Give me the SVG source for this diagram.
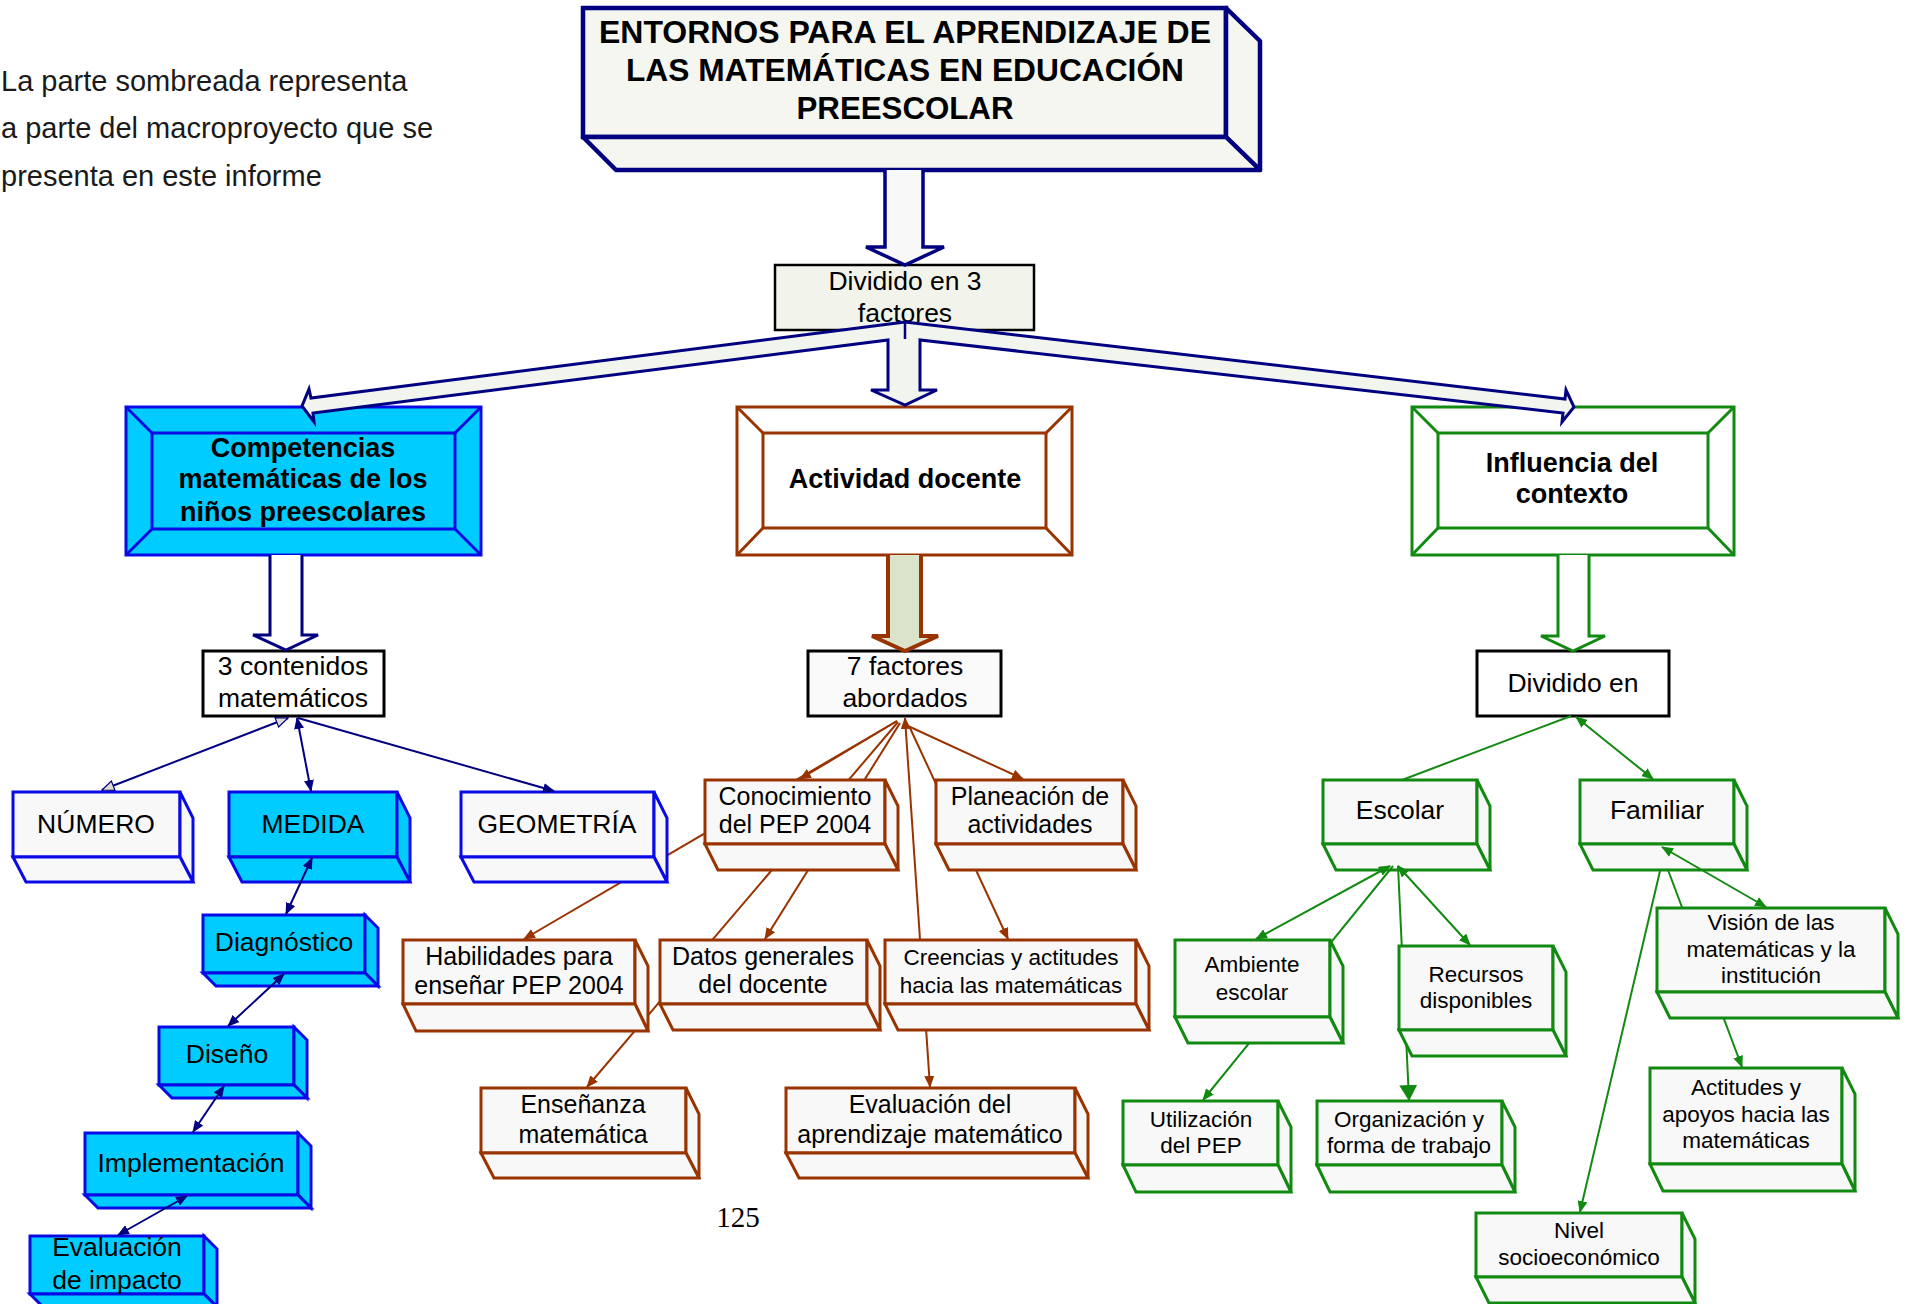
<svg xmlns="http://www.w3.org/2000/svg" width="1909" height="1304" viewBox="0 0 1909 1304">
<style>
text{font-family:"Liberation Sans",Arial,sans-serif;fill:#000;text-anchor:middle}
.leg{font-size:29px;fill:#1a1a1a;text-anchor:start}
.tt{font-size:31.5px;font-weight:bold}
.bb{font-size:27px;font-weight:bold}
.t27{font-size:26.5px}
.t25{font-size:25px}
.t22{font-size:22.5px}
.pg{font-family:"Liberation Serif","Times New Roman",serif;font-size:29px}
.fb{fill:#f8f8f8;stroke:#0a0ae6;stroke-width:3;stroke-linejoin:miter}
.fc{fill:#00ccff;stroke:#0a0ae6;stroke-width:3}
.fr{fill:#f8f8f8;stroke:#993300;stroke-width:3}
.fg{fill:#f8f8f8;stroke:#128a12;stroke-width:3}
.ln{stroke:#000080;stroke-width:2;fill:none}
.lr{stroke:#993300;stroke-width:2;fill:none}
.lg{stroke:#128a12;stroke-width:2;fill:none}
</style>
<defs>
<marker id="mn" viewBox="0 0 12 10" refX="11" refY="5" markerWidth="12" markerHeight="10" markerUnits="userSpaceOnUse" orient="auto-start-reverse"><path d="M0,0 L12,5 L0,10 z" fill="#000080"/></marker>
<marker id="mh" viewBox="0 0 14 12" refX="13" refY="6" markerWidth="14" markerHeight="12" markerUnits="userSpaceOnUse" orient="auto-start-reverse"><path d="M1,1 L13,6 L1,11 z" fill="#dcdcd0" stroke="#000080" stroke-width="1.2"/></marker>
<marker id="mr" viewBox="0 0 12 10" refX="11" refY="5" markerWidth="12" markerHeight="10" markerUnits="userSpaceOnUse" orient="auto-start-reverse"><path d="M0,0 L12,5 L0,10 z" fill="#993300"/></marker>
<marker id="mg" viewBox="0 0 12 10" refX="11" refY="5" markerWidth="12" markerHeight="10" markerUnits="userSpaceOnUse" orient="auto-start-reverse"><path d="M0,0 L12,5 L0,10 z" fill="#128a12"/></marker>
<marker id="mgL" viewBox="0 0 16 18" refX="15" refY="9" markerWidth="16" markerHeight="18" markerUnits="userSpaceOnUse" orient="auto-start-reverse"><path d="M0,0 L16,9 L0,18 z" fill="#128a12"/></marker>
</defs>
<rect width="1909" height="1304" fill="#fff"/>

<g id="legend">
<text class="leg" x="1" y="91">La parte sombreada representa</text>
<text class="leg" x="1" y="138">a parte del macroproyecto que se</text>
<text class="leg" x="1" y="186">presenta en este informe</text>
</g>
<text class="pg" x="738" y="1227">125</text>

<g id="n-escolar">
<rect class="fg" x="1323" y="780" width="154" height="64"/>
<path class="fg" d="M1477,780 L1490,806 L1490,870 L1477,844 Z"/>
<path class="fg" d="M1323,844 L1336,870 L1490,870 L1477,844 Z"/>
<text class="t27" x="1400" y="819">Escolar</text>
</g>
<g id="n-familiar">
<rect class="fg" x="1580" y="780" width="154" height="64"/>
<path class="fg" d="M1734,780 L1747,806 L1747,870 L1734,844 Z"/>
<path class="fg" d="M1580,844 L1593,870 L1747,870 L1734,844 Z"/>
<text class="t27" x="1657" y="819">Familiar</text>
</g>
<g id="n-3contenidos">
<rect x="203" y="651" width="181" height="65" fill="#fff" stroke="#000" stroke-width="3"/>
<text class="t27" x="293" y="675">3 contenidos</text>
<text class="t27" x="293" y="707">matemáticos</text>
</g>
<g id="n-7factores">
<rect x="808" y="651" width="193" height="65" fill="#fafafa" stroke="#000" stroke-width="3"/>
<text class="t27" x="905" y="675">7 factores</text>
<text class="t27" x="905" y="707">abordados</text>
</g>
<g id="n-dividido-en">
<rect x="1477" y="651" width="192" height="65" fill="#fff" stroke="#000" stroke-width="3"/>
<text class="t27" x="1573" y="692">Dividido en</text>
</g>

<g id="connectors">
<line class="lr" x1="897" y1="721" x2="800" y2="779" marker-end="url(#mr)"/>
<line class="lr" x1="897" y1="721" x2="524" y2="939" marker-end="url(#mr)"/>
<line class="lr" x1="898" y1="722" x2="587" y2="1087" marker-end="url(#mr)"/>
<line class="lr" x1="900" y1="723" x2="765" y2="939" marker-end="url(#mr)"/>
<line class="lr" x1="905" y1="718" x2="930" y2="1087" marker-start="url(#mr)" marker-end="url(#mr)"/>
<line class="lr" x1="908" y1="726" x2="1023" y2="779" marker-end="url(#mr)"/>
<line class="lr" x1="910" y1="728" x2="1008" y2="939" marker-end="url(#mr)"/>

<line class="lg" x1="1571" y1="716" x2="1402" y2="780"/>
<line class="lg" x1="1576" y1="717" x2="1653" y2="779" marker-start="url(#mg)" marker-end="url(#mg)"/>
<line class="lg" x1="1390" y1="866" x2="1256" y2="939" marker-start="url(#mg)" marker-end="url(#mg)"/>
<line class="lg" x1="1393" y1="866" x2="1203" y2="1100" marker-end="url(#mg)"/>
<line class="lg" x1="1398" y1="866" x2="1409" y2="1100" marker-end="url(#mgL)"/>
<line class="lg" x1="1398" y1="866" x2="1470" y2="945" marker-start="url(#mg)" marker-end="url(#mg)"/>
<line class="lg" x1="1662" y1="847" x2="1766" y2="907" marker-start="url(#mg)" marker-end="url(#mg)"/>
<line class="lg" x1="1668" y1="870" x2="1742" y2="1067" marker-end="url(#mg)"/>
<line class="lg" x1="1660" y1="871" x2="1580" y2="1212" marker-end="url(#mg)"/>
</g>

<g id="n-title">
<rect x="583" y="8" width="643" height="129" fill="#f6f6f1" stroke="#000080" stroke-width="4.5"/>
<path d="M1226,8 L1260,41 L1260,170 L1226,137 Z" fill="#f6f6f1" stroke="#000080" stroke-width="4.5" stroke-linejoin="round"/>
<path d="M583,137 L616,170 L1260,170 L1226,137 Z" fill="#f6f6f1" stroke="#000080" stroke-width="4.5" stroke-linejoin="round"/>
<text class="tt" x="905" y="43" textLength="612" lengthAdjust="spacingAndGlyphs">ENTORNOS PARA EL APRENDIZAJE DE</text>
<text class="tt" x="905" y="81" textLength="558" lengthAdjust="spacingAndGlyphs">LAS MATEMÁTICAS EN EDUCACIÓN</text>
<text class="tt" x="905" y="119" textLength="217" lengthAdjust="spacingAndGlyphs">PREESCOLAR</text>
</g>

<g id="n-dividido3">
<rect x="775" y="265" width="259" height="65" fill="#f2f4ec" stroke="#000" stroke-width="2.5"/>
<text class="t27" x="905" y="290">Dividido en 3</text>
<text class="t27" x="905" y="322">factores</text>
</g>

<g id="n-competencias">
<rect x="126" y="407" width="355" height="148" fill="#00ccff" stroke="#0a0ae6" stroke-width="3"/>
<rect x="152" y="433" width="303" height="96" fill="#00ccff" stroke="#0a0ae6" stroke-width="3"/>
<path d="M126,407 L152,433 M481,407 L455,433 M126,555 L152,529 M481,555 L455,529" stroke="#0a0ae6" stroke-width="3"/>
<text class="bb" x="303" y="457">Competencias</text>
<text class="bb" x="303" y="488">matemáticas de los</text>
<text class="bb" x="303" y="521">niños preescolares</text>
</g>
<g id="n-actividad">
<rect x="737" y="407" width="335" height="148" fill="#fff" stroke="#993300" stroke-width="3"/>
<rect x="763" y="433" width="283" height="95" fill="#fff" stroke="#993300" stroke-width="3"/>
<path d="M737,407 L763,433 M1072,407 L1046,433 M737,555 L763,528 M1072,555 L1046,528" stroke="#993300" stroke-width="3"/>
<text class="bb" x="905" y="488">Actividad docente</text>
</g>
<g id="n-influencia">
<rect x="1412" y="407" width="322" height="148" fill="#fff" stroke="#128a12" stroke-width="3"/>
<rect x="1438" y="433" width="270" height="95" fill="#fff" stroke="#128a12" stroke-width="3"/>
<path d="M1412,407 L1438,433 M1734,407 L1708,433 M1412,555 L1438,528 M1734,555 L1708,528" stroke="#128a12" stroke-width="3"/>
<text class="bb" x="1572" y="472">Influencia del</text>
<text class="bb" x="1572" y="503">contexto</text>
</g>

<g id="n-numero">
<rect class="fb" x="13" y="792" width="167" height="65"/>
<path class="fb" d="M180,792 L193,818 L193,882 L180,857 Z"/>
<path class="fb" d="M13,857 L26,882 L193,882 L180,857 Z"/>
<text class="t27" x="96" y="833">NÚMERO</text>
</g>
<g id="n-medida">
<rect class="fc" x="229" y="792" width="168" height="65"/>
<path class="fc" d="M397,792 L410,818 L410,882 L397,857 Z"/>
<path class="fc" d="M229,857 L242,882 L410,882 L397,857 Z"/>
<text class="t27" x="313" y="833">MEDIDA</text>
</g>
<g id="n-geometria">
<rect class="fb" x="461" y="792" width="193" height="65"/>
<path class="fb" d="M654,792 L667,818 L667,882 L654,857 Z"/>
<path class="fb" d="M461,857 L474,882 L667,882 L654,857 Z"/>
<text class="t27" x="557" y="833">GEOMETRÍA</text>
</g>
<g id="n-diagnostico">
<rect class="fc" x="203" y="915" width="162" height="58"/>
<path class="fc" d="M365,915 L378,928 L378,986 L365,973 Z"/>
<path class="fc" d="M203,973 L216,986 L378,986 L365,973 Z"/>
<text class="t27" x="284" y="951">Diagnóstico</text>
</g>
<g id="n-diseno">
<rect class="fc" x="159" y="1027" width="135" height="58"/>
<path class="fc" d="M294,1027 L307,1040 L307,1098 L294,1085 Z"/>
<path class="fc" d="M159,1085 L172,1098 L307,1098 L294,1085 Z"/>
<text class="t27" x="227" y="1063">Diseño</text>
</g>
<g id="n-implementacion">
<rect class="fc" x="85" y="1133" width="213" height="62"/>
<path class="fc" d="M298,1133 L311,1146 L311,1208 L298,1195 Z"/>
<path class="fc" d="M85,1195 L98,1208 L311,1208 L298,1195 Z"/>
<text class="t27" x="191" y="1172">Implementación</text>
</g>
<g id="n-evaluacion-impacto">
<rect class="fc" x="30" y="1236" width="174" height="58"/>
<path class="fc" d="M204,1236 L217,1249 L217,1307 L204,1294 Z"/>
<path class="fc" d="M30,1294 L43,1307 L217,1307 L204,1294 Z"/>
<text class="t27" x="117" y="1256">Evaluación</text>
<text class="t27" x="117" y="1289">de impacto</text>
</g>

<g id="n-conocimiento">
<rect class="fr" x="705" y="780" width="180" height="64"/>
<path class="fr" d="M885,780 L898,806 L898,870 L885,844 Z"/>
<path class="fr" d="M705,844 L718,870 L898,870 L885,844 Z"/>
<text class="t25" x="795" y="805">Conocimiento</text>
<text class="t25" x="795" y="833">del PEP 2004</text>
</g>
<g id="n-planeacion">
<rect class="fr" x="936" y="780" width="187" height="64"/>
<path class="fr" d="M1123,780 L1136,806 L1136,870 L1123,844 Z"/>
<path class="fr" d="M936,844 L949,870 L1136,870 L1123,844 Z"/>
<text class="t25" x="1030" y="805">Planeación de</text>
<text class="t25" x="1030" y="833">actividades</text>
</g>
<g id="n-habilidades">
<rect class="fr" x="403" y="940" width="232" height="64"/>
<path class="fr" d="M635,940 L648,966 L648,1031 L635,1004 Z"/>
<path class="fr" d="M403,1004 L416,1031 L648,1031 L635,1004 Z"/>
<text class="t25" x="519" y="965">Habilidades para</text>
<text class="t25" x="519" y="994">enseñar PEP 2004</text>
</g>
<g id="n-datos">
<rect class="fr" x="660" y="940" width="207" height="64"/>
<path class="fr" d="M867,940 L880,966 L880,1030 L867,1004 Z"/>
<path class="fr" d="M660,1004 L673,1030 L880,1030 L867,1004 Z"/>
<text class="t25" x="763" y="965">Datos generales</text>
<text class="t25" x="763" y="993">del docente</text>
</g>
<g id="n-creencias">
<rect class="fr" x="885" y="940" width="251" height="64"/>
<path class="fr" d="M1136,940 L1149,966 L1149,1030 L1136,1004 Z"/>
<path class="fr" d="M885,1004 L898,1030 L1149,1030 L1136,1004 Z"/>
<text class="t22" x="1011" y="965">Creencias y actitudes</text>
<text class="t22" x="1011" y="993">hacia las matemáticas</text>
</g>
<g id="n-ensenanza">
<rect class="fr" x="481" y="1088" width="205" height="65"/>
<path class="fr" d="M686,1088 L699,1114 L699,1178 L686,1153 Z"/>
<path class="fr" d="M481,1153 L494,1178 L699,1178 L686,1153 Z"/>
<text class="t25" x="583" y="1113">Enseñanza</text>
<text class="t25" x="583" y="1143">matemática</text>
</g>
<g id="n-evaluacion-aprendizaje">
<rect class="fr" x="786" y="1088" width="289" height="65"/>
<path class="fr" d="M1075,1088 L1088,1114 L1088,1178 L1075,1153 Z"/>
<path class="fr" d="M786,1153 L799,1178 L1088,1178 L1075,1153 Z"/>
<text class="t25" x="930" y="1113">Evaluación del</text>
<text class="t25" x="930" y="1143">aprendizaje matemático</text>
</g>

<g id="n-ambiente">
<rect class="fg" x="1175" y="940" width="155" height="77"/>
<path class="fg" d="M1330,940 L1343,966 L1343,1043 L1330,1017 Z"/>
<path class="fg" d="M1175,1017 L1188,1043 L1343,1043 L1330,1017 Z"/>
<text class="t22" x="1252" y="972">Ambiente</text>
<text class="t22" x="1252" y="1000">escolar</text>
</g>
<g id="n-recursos">
<rect class="fg" x="1399" y="946" width="154" height="84"/>
<path class="fg" d="M1553,946 L1566,972 L1566,1056 L1553,1030 Z"/>
<path class="fg" d="M1399,1030 L1412,1056 L1566,1056 L1553,1030 Z"/>
<text class="t22" x="1476" y="982">Recursos</text>
<text class="t22" x="1476" y="1008">disponibles</text>
</g>
<g id="n-utilizacion">
<rect class="fg" x="1123" y="1101" width="155" height="64"/>
<path class="fg" d="M1278,1101 L1291,1127 L1291,1192 L1278,1165 Z"/>
<path class="fg" d="M1123,1165 L1136,1192 L1291,1192 L1278,1165 Z"/>
<text class="t22" x="1201" y="1127">Utilización</text>
<text class="t22" x="1201" y="1153">del PEP</text>
</g>
<g id="n-organizacion">
<rect class="fg" x="1317" y="1101" width="185" height="64"/>
<path class="fg" d="M1502,1101 L1515,1127 L1515,1192 L1502,1165 Z"/>
<path class="fg" d="M1317,1165 L1330,1192 L1515,1192 L1502,1165 Z"/>
<text class="t22" x="1409" y="1127">Organización y</text>
<text class="t22" x="1409" y="1153">forma de trabajo</text>
</g>
<g id="n-vision">
<rect class="fg" x="1657" y="908" width="228" height="84"/>
<path class="fg" d="M1885,908 L1898,934 L1898,1018 L1885,992 Z"/>
<path class="fg" d="M1657,992 L1670,1018 L1898,1018 L1885,992 Z"/>
<text class="t22" x="1771" y="930">Visión de las</text>
<text class="t22" x="1771" y="957">matemáticas y la</text>
<text class="t22" x="1771" y="983">institución</text>
</g>
<g id="n-actitudes">
<rect class="fg" x="1650" y="1068" width="192" height="96"/>
<path class="fg" d="M1842,1068 L1855,1094 L1855,1191 L1842,1164 Z"/>
<path class="fg" d="M1650,1164 L1663,1191 L1855,1191 L1842,1164 Z"/>
<text class="t22" x="1746" y="1095">Actitudes y</text>
<text class="t22" x="1746" y="1122">apoyos hacia las</text>
<text class="t22" x="1746" y="1148">matemáticas</text>
</g>
<g id="n-nivel">
<rect class="fg" x="1476" y="1213" width="206" height="64"/>
<path class="fg" d="M1682,1213 L1695,1239 L1695,1303 L1682,1277 Z"/>
<path class="fg" d="M1476,1277 L1489,1303 L1695,1303 L1682,1277 Z"/>
<text class="t22" x="1579" y="1238">Nivel</text>
<text class="t22" x="1579" y="1265">socioeconómico</text>
</g>

<g id="connectors-blue">
<line class="ln" x1="288" y1="718" x2="102" y2="790" marker-start="url(#mh)" marker-end="url(#mh)"/>
<line class="ln" x1="297" y1="718" x2="311" y2="791" marker-start="url(#mn)" marker-end="url(#mn)"/>
<line class="ln" x1="298" y1="718" x2="554" y2="791" marker-end="url(#mn)"/>
<line class="ln" x1="312" y1="858" x2="286" y2="914" marker-start="url(#mn)" marker-end="url(#mn)"/>
<line class="ln" x1="284" y1="974" x2="228" y2="1026" marker-start="url(#mn)" marker-end="url(#mn)"/>
<line class="ln" x1="224" y1="1086" x2="193" y2="1132" marker-start="url(#mn)" marker-end="url(#mn)"/>
<line class="ln" x1="187" y1="1196" x2="118" y2="1235" marker-start="url(#mn)" marker-end="url(#mn)"/>
</g>

<g id="block-arrows">
<path d="M885,170 L885,247 L866,247 L905,265 L944,247 L923,247 L923,170" fill="#f8f8f8" stroke="#000080" stroke-width="3.5" stroke-linejoin="miter"/>
<path d="M905,322 L311,398 L309,389 L302,406 L314,422 L313,413 L888,340 L888,390 L871,390 L905,405 L937,390 L920,390 L920,340 L1563,413 L1562,422 L1574,407 L1566,390 L1565,399 Z" fill="#f2f4ee" stroke="#000080" stroke-width="3" stroke-linejoin="miter"/>
<line x1="905" y1="322" x2="905" y2="339" stroke="#000080" stroke-width="2.5"/>
<path d="M270,555 L270,635 L253,635 L286,650 L318,635 L302,635 L302,555" fill="#fff" stroke="#000080" stroke-width="3"/>
<path d="M888,555 L888,636 L872,636 L905,651 L938,636 L921,636 L921,555" fill="#dce3cb" stroke="#993300" stroke-width="4"/>
<path d="M1558,555 L1558,636 L1541,636 L1573,651 L1605,636 L1589,636 L1589,555" fill="#fff" stroke="#128a12" stroke-width="3"/>
</g>
</svg>
